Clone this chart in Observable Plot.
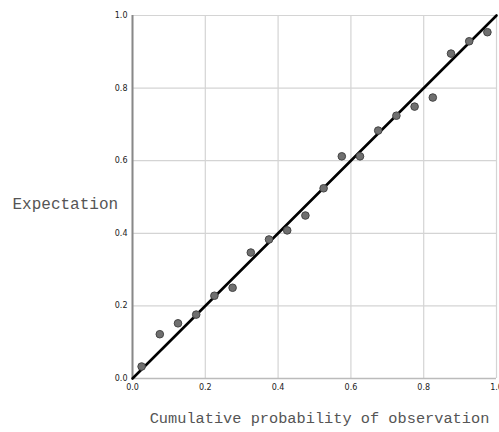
<!DOCTYPE html>
<html>
<head>
<meta charset="utf-8">
<script src="https://cdn.jsdelivr.net/npm/d3@7"></script>
<script src="https://cdn.jsdelivr.net/npm/@observablehq/plot@0.6"></script>
<style>
  html, body { margin: 0; padding: 0; background: #fff; }
</style>
</head>
<body>
<div id="chart"></div>
<script>
const observed = [0.025, 0.075, 0.125, 0.175, 0.225, 0.275, 0.325, 0.375, 0.425, 0.475,
                  0.525, 0.575, 0.625, 0.675, 0.725, 0.775, 0.825, 0.875, 0.925, 0.975];
const expected = [0.033, 0.122, 0.152, 0.176, 0.228, 0.250, 0.347, 0.383, 0.408, 0.449,
                  0.524, 0.612, 0.612, 0.683, 0.724, 0.749, 0.774, 0.895, 0.929, 0.954];
const ticks = [0, 0.2, 0.4, 0.6, 0.8, 1.0];
const refLine = [0, 1];
const xLabel = "Cumulative probability of observation";
const yLabel = "Expectation";

const points = observed.map((x, i) => ({x, y: expected[i]}));

const chart = Plot.plot({
  width: 499,
  height: 432,
  marginLeft: 132,
  marginRight: 3,
  marginTop: 15,
  marginBottom: 54,
  style: {background: "#fff", fontFamily: "'DejaVu Sans', sans-serif"},
  x: {domain: [0, 1], ticks, tickFormat: d3.format(".1f")},
  y: {domain: [0, 1], ticks, tickFormat: d3.format(".1f")},
  marks: [
    Plot.gridX(ticks, {stroke: "#d4d4d4", strokeOpacity: 1, strokeWidth: 1.2}),
    Plot.gridY(ticks, {stroke: "#d4d4d4", strokeOpacity: 1, strokeWidth: 1.2}),
    Plot.axisX(ticks, {tickSize: 0, tickPadding: 6, fontSize: 8, fill: "#222", label: null, tickFormat: d3.format(".1f")}),
    Plot.axisY(ticks, {tickSize: 0, tickPadding: 5, fontSize: 8, fill: "#222", label: null, tickFormat: d3.format(".1f")}),
    Plot.ruleY([0], {stroke: "#bbb", strokeWidth: 1.5}),
    Plot.ruleX([0], {stroke: "#888", strokeWidth: 2}),
    Plot.line(refLine.map(v => ({x: v, y: v})), {x: "x", y: "y", stroke: "#000", strokeWidth: 2.6}),
    Plot.dot(points, {x: "x", y: "y", r: 3.8, fill: "#6f6f6f", stroke: "#444", strokeWidth: 1}),
    Plot.text([yLabel], {frameAnchor: "left", dx: -120, dy: 7, textAnchor: "start",
      fontFamily: "'Liberation Mono', monospace", fontSize: 16, fill: "#555"}),
    Plot.text([xLabel], {frameAnchor: "bottom", dy: 44, dx: 5, x: () => 0.5, y: () => 0, textAnchor: "middle",
      fontFamily: "'Liberation Mono', monospace", fontSize: 15.3, fill: "#555"})
  ]
});
document.getElementById("chart").appendChild(chart);
</script>
</body>
</html>
